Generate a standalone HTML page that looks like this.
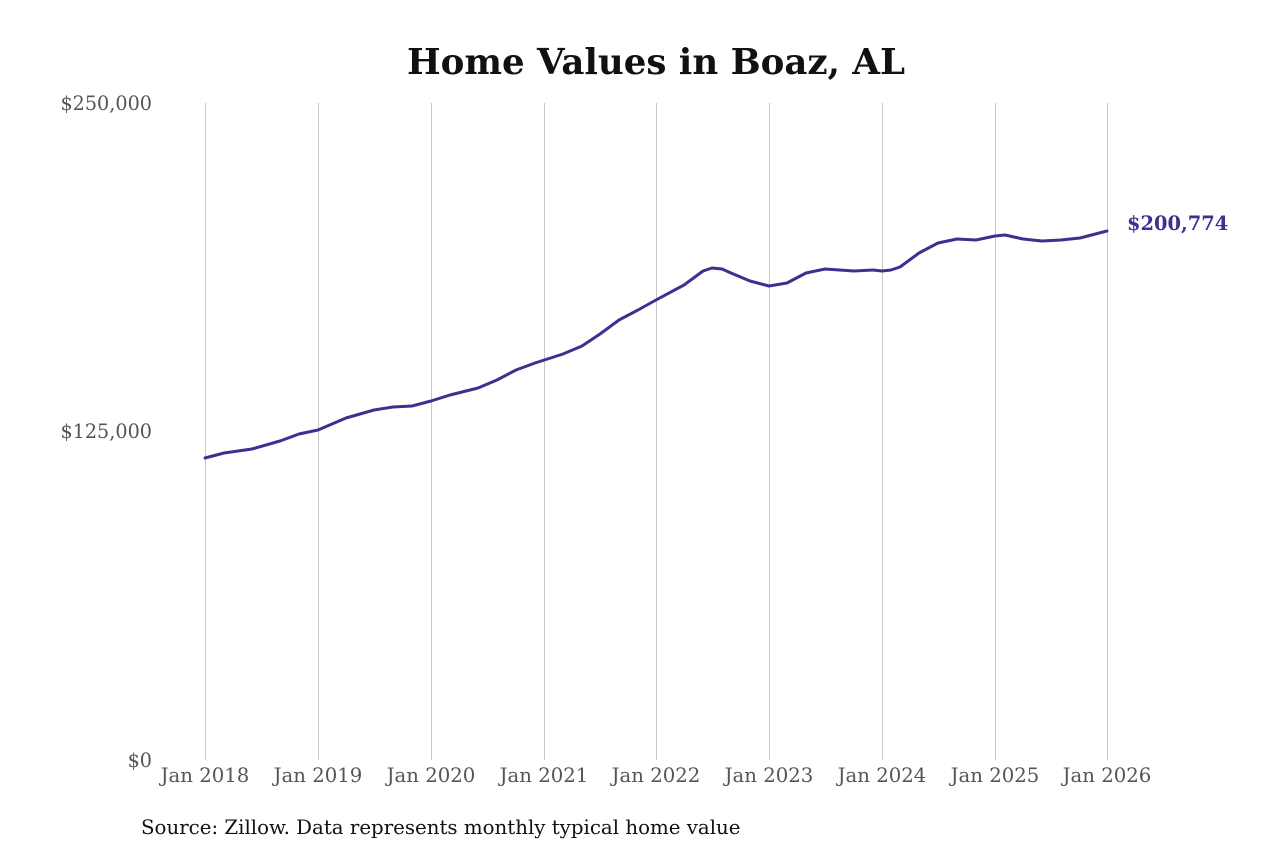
<!DOCTYPE html>
<html><head><meta charset="utf-8"><style>
html,body{margin:0;padding:0;background:#fff;}
</style></head><body>
<svg width="1280" height="853" xmlns="http://www.w3.org/2000/svg" style="display:block">
<rect width="1280" height="853" fill="#fff"/>
<text x="656" y="74" text-anchor="middle" font-family="'DejaVu Serif','Liberation Serif',serif" font-weight="bold" font-size="35.6" fill="#111">Home Values in Boaz, AL</text>
<g stroke="#c8c8c8" stroke-width="1">
<line x1="205.5" y1="103" x2="205.5" y2="760"/>
<line x1="318.5" y1="103" x2="318.5" y2="760"/>
<line x1="431.5" y1="103" x2="431.5" y2="760"/>
<line x1="544.5" y1="103" x2="544.5" y2="760"/>
<line x1="656.5" y1="103" x2="656.5" y2="760"/>
<line x1="769.5" y1="103" x2="769.5" y2="760"/>
<line x1="882.5" y1="103" x2="882.5" y2="760"/>
<line x1="995.5" y1="103" x2="995.5" y2="760"/>
<line x1="1107.5" y1="103" x2="1107.5" y2="760"/>
</g>
<g font-family="'DejaVu Serif','Liberation Serif',serif" font-size="19.2" fill="#555">
<text x="152" y="110" text-anchor="end">$250,000</text>
<text x="152" y="438" text-anchor="end">$125,000</text>
<text x="152" y="767" text-anchor="end">$0</text>
</g>
<g font-family="'DejaVu Serif','Liberation Serif',serif" font-size="19.7" fill="#555" text-anchor="middle">
<text x="205" y="782">Jan 2018</text>
<text x="318" y="782">Jan 2019</text>
<text x="431" y="782">Jan 2020</text>
<text x="544" y="782">Jan 2021</text>
<text x="656" y="782">Jan 2022</text>
<text x="769" y="782">Jan 2023</text>
<text x="882" y="782">Jan 2024</text>
<text x="995" y="782">Jan 2025</text>
<text x="1107" y="782">Jan 2026</text>
</g>
<polyline fill="none" stroke="#3a3191" stroke-width="3" stroke-linejoin="round" stroke-linecap="round" points="
205,458 224,453 252,449 280,441 299,434 318,430 346,418 374,410 393,407 412,406 431,401 450,395 478,388 497,380 516,370 535,363 563,354 582,346 600,334 619,320 638,310 656,300 684,285 703,271 712,268 722,269 731,273 750,281 769,286 787,283 806,273 825,269 854,271 873,270 882,271 891,270 900,267 919,253 938,243 957,239 976,240 995,236 1005,235 1023,239 1042,241 1061,240 1080,238 1107,231"/>
<text x="1127" y="230" font-family="'DejaVu Serif','Liberation Serif',serif" font-weight="bold" font-size="19.4" fill="#3a3191">$200,774</text>
<text x="141" y="834" font-family="'DejaVu Serif','Liberation Serif',serif" font-size="19.8" fill="#111">Source: Zillow. Data represents monthly typical home value</text>
</svg>
</body></html>
